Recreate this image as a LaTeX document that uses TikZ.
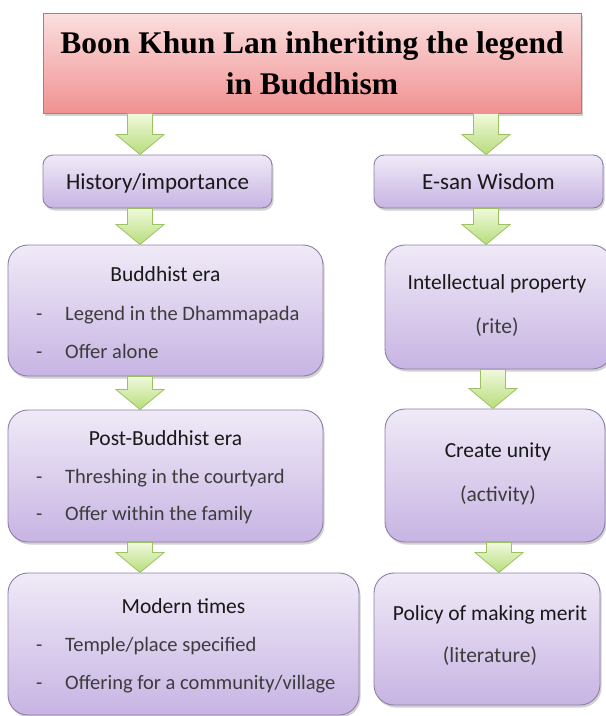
\documentclass[tikz,border=0pt]{standalone}
\usepackage{fontspec}
\setmainfont{Liberation Serif}
\newfontfamily\boxfont{Carlito}
\usetikzlibrary{shadows,calc}
\usepackage{xcolor}

\definecolor{titletop}{HTML}{FBDFDF}
\definecolor{titlebot}{HTML}{F19191}
\definecolor{titleline}{HTML}{CF6F6D}
\definecolor{boxtop}{HTML}{F0EAF7}
\definecolor{boxbot}{HTML}{C7B4E3}
\definecolor{boxline}{HTML}{8D7EA6}
\definecolor{arrtop}{HTML}{F0F9DC}
\definecolor{arrbot}{HTML}{B7DD7B}
\definecolor{arrline}{HTML}{9DC263}
\definecolor{itemgray}{HTML}{3C3C3C}

\tikzset{
  softshadow/.style={drop shadow={shadow xshift=1.5pt,shadow yshift=-2.5pt,opacity=0.3,fill=black!60}},
  titlebox/.style={draw=titleline, line width=0.9pt, top color=titletop, bottom color=titlebot,
    softshadow, align=center, font=\fontsize{31.5}{41}\selectfont\bfseries},
  headbox/.style={draw=boxline, line width=0.9pt, rounded corners=10pt, top color=boxtop,
    bottom color=boxbot, softshadow, text height=15pt, text depth=0pt,
    font=\boxfont\fontsize{23}{27}\selectfont, text=black!90},
  stagebox/.style={draw=boxline, line width=0.9pt, rounded corners=20pt, top color=boxtop,
    bottom color=boxbot, softshadow},
  stagetitle/.style={inner sep=0pt, text height=13pt, text depth=0pt,
    font=\boxfont\fontsize{21.5}{26}\selectfont, text=black!90},
  stageitem/.style={anchor=west, inner sep=0pt, text height=13pt, text depth=0pt,
    font=\boxfont\fontsize{20.5}{24}\selectfont, text=itemgray},
  greenarrow/.style={draw=arrline, line width=0.8pt, top color=arrtop, bottom color=arrbot, line join=miter}
}

\newcommand{\itemdash}{\makebox[29pt][l]{-}}
% block arrow at x from the bottom of #2 to the top of #3
\newcommand{\grnarrow}[3]{%
  \coordinate (atop) at (#1,0 |- #2.south);
  \coordinate (abot) at (#1,0 |- #3.north);
  \draw[greenarrow] ($(atop)+(-12.5,0)$) -- ($(atop)+(12.5,0)$) -- ($(abot)+(12.5,-20)$)
    -- ($(abot)+(24,-20)$) -- (abot) -- ($(abot)+(-24,-20)$) -- ($(abot)+(-12.5,-20)$) -- cycle;}

\begin{document}
\begin{tikzpicture}[x=1pt,y=-1pt]
        \useasboundingbox (0,0) rectangle (606,716);

        \node[titlebox, minimum width=538pt, minimum height=100pt] (title) at (312,63) {Boon Khun Lan inheriting the legend\\in Buddhism};

        \node[headbox, minimum width=229pt, minimum height=53pt] (hist) at (157.5,181.5) {History/importance};
        \node[headbox, minimum width=229pt, minimum height=53pt] (esan) at (488.5,181.5) {E-san Wisdom};

        % left column
        \node[stagebox, minimum width=315pt, minimum height=131pt] (budd) at (165.5,310.5) {};
        \node[stagetitle] (budd-t) at (165.5,275) {Buddhist era};
        \node[stageitem] (budd-a) at (36,314) {\itemdash Legend in the Dhammapada};
        \node[stageitem] (budd-b) at (36,352) {\itemdash Offer alone};

        \node[stagebox, minimum width=315pt, minimum height=132pt] (post) at (165.5,476) {};
        \node[stagetitle] (post-t) at (165.5,439) {Post-Buddhist era};
        \node[stageitem] (post-a) at (36,477) {\itemdash Threshing in the courtyard};
        \node[stageitem] (post-b) at (36,514) {\itemdash Offer within the family};

        \node[stagebox, minimum width=351pt, minimum height=142pt] (modern) at (183.5,644) {};
        \node[stagetitle] (modern-t) at (183.5,607) {Modern times};
        \node[stageitem] (modern-a) at (36,645) {\itemdash Temple/place specified};
        \node[stageitem] (modern-b) at (36,683) {\itemdash Offering for a community/village};

        % right column
        \node[stagebox, minimum width=227pt, minimum height=124pt] (intel) at (498.5,307) {};
        \node[stagetitle] (intel-t) at (497,283) {Intellectual property};
        \node[stagetitle, text=itemgray] (intel-s) at (497,327) {(rite)};

        \node[stagebox, minimum width=220pt, minimum height=133pt] (unity) at (495,475.5) {};
        \node[stagetitle] (unity-t) at (498,451) {Create unity};
        \node[stagetitle, text=itemgray] (unity-s) at (498,495) {(activity)};

        \node[stagebox, minimum width=226pt, minimum height=132pt] (policy) at (487,639) {};
        \node[stagetitle] (policy-t) at (490,614) {Policy of making merit};
        \node[stagetitle, text=itemgray] (policy-s) at (490,656) {(literature)};

        % arrows
        \grnarrow{140}{title}{hist}
        \grnarrow{486}{title}{esan}
        \grnarrow{140}{hist}{budd}
        \grnarrow{486}{esan}{intel}
        \grnarrow{140}{budd}{post}
        \grnarrow{493}{intel}{unity}
        \grnarrow{140}{post}{modern}
        \grnarrow{499}{unity}{policy}
\end{tikzpicture}
\end{document}
